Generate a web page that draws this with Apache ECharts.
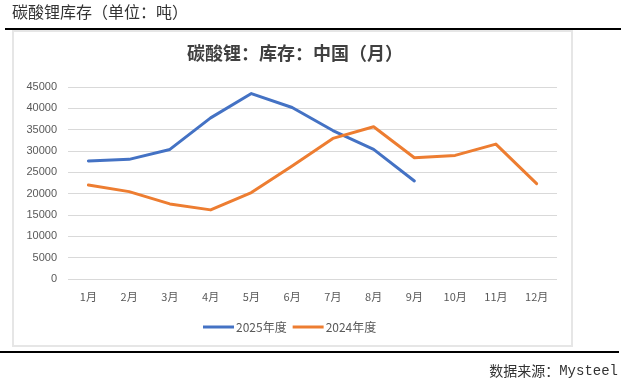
<!DOCTYPE html>
<html><head><meta charset="utf-8">
<script src="https://cdn.jsdelivr.net/npm/echarts@6/dist/echarts.min.js"></script>
<style>html,body{margin:0;padding:0;background:#fff}#c{width:627px;height:388px}</style>
</head><body><div id="c"></div>
<script>
var categories = ['1月','2月','3月','4月','5月','6月','7月','8月','9月','10月','11月','12月'];
var series2025 = [27650, 28040, 30370, 37770, 43460, 40190, 34800, 30370, 22980];
var series2024 = [22040, 20480, 17600, 16200, 20250, 26480, 32950, 35670, 28430, 28970, 31620, 22350];
var yTicks = [0, 5000, 10000, 15000, 20000, 25000, 30000, 35000, 40000, 45000];

var chart = echarts.init(document.getElementById('c'));
chart.setOption({
  animation: false,
  backgroundColor: '#fff',
  title: {
    text: '碳酸锂：库存：中国（月）',
    left: 290, top: 39, textAlign: 'center',
    textStyle: {fontFamily: 'Noto Sans CJK SC', fontSize: 18, fontWeight: 'bold', color: '#404040'}
  },
  legend: {
    bottom: 50, left: 198,
    itemWidth: 31, itemHeight: 3, itemGap: 6,
    icon: 'rect',
    textStyle: {fontFamily: 'Noto Sans CJK SC', fontSize: 12, color: '#595959', padding: [0,0,0,-3]},
    data: ['2025年度', '2024年度']
  },
  grid: {left: 68, right: 70, top: 87, bottom: 109},
  xAxis: {
    type: 'category', data: categories, boundaryGap: true,
    axisLine: {show: false}, axisTick: {show: false},
    axisLabel: {fontFamily: 'Noto Sans CJK SC', fontSize: 11, color: '#595959', margin: 12}
  },
  yAxis: {
    type: 'value', min: yTicks[0], max: yTicks[yTicks.length-1], interval: 5000,
    axisLine: {show: false}, axisTick: {show: false},
    splitLine: {lineStyle: {color: '#d9d9d9', width: 1}},
    axisLabel: {fontFamily: 'Liberation Sans', fontSize: 11, color: '#595959', margin: 11,
      formatter: function (v) { return String(v); }}
  },
  series: [
    {name: '2025年度', type: 'line', data: series2025, symbol: 'none', color: '#4472C4',
     lineStyle: {width: 3, color: '#4472C4', cap: 'round', join: 'round'}},
    {name: '2024年度', type: 'line', data: series2024, symbol: 'none', color: '#ED7D31',
     lineStyle: {width: 3, color: '#ED7D31', cap: 'round', join: 'round'}}
  ],
  graphic: [
    {type: 'rect', shape: {x: 13, y: 31, width: 559, height: 315}, style: {fill: 'none', stroke: '#e6e6e6', lineWidth: 2}, z: -1},
    {type: 'rect', shape: {x: 5, y: 28, width: 616, height: 2}, style: {fill: '#000'}},
    {type: 'rect', shape: {x: 0, y: 351, width: 619, height: 2}, style: {fill: '#000'}},
    {type: 'text', x: 12, y: 12, style: {text: '碳酸锂库存（单位：吨）', font: '16px "Noto Sans CJK SC"', fill: '#333', verticalAlign: 'middle'}},
    {type: 'text', x: 618, y: 371, style: {
      text: '{a|数据来源：}{b|Mysteel}', align: 'right', verticalAlign: 'middle',
      rich: {a: {fontFamily: 'Noto Sans CJK SC', fontSize: 14, fill: '#333'}, b: {fontFamily: 'Liberation Mono', fontSize: 14, fill: '#333'}}
    }}
  ]
});
</script></body></html>
